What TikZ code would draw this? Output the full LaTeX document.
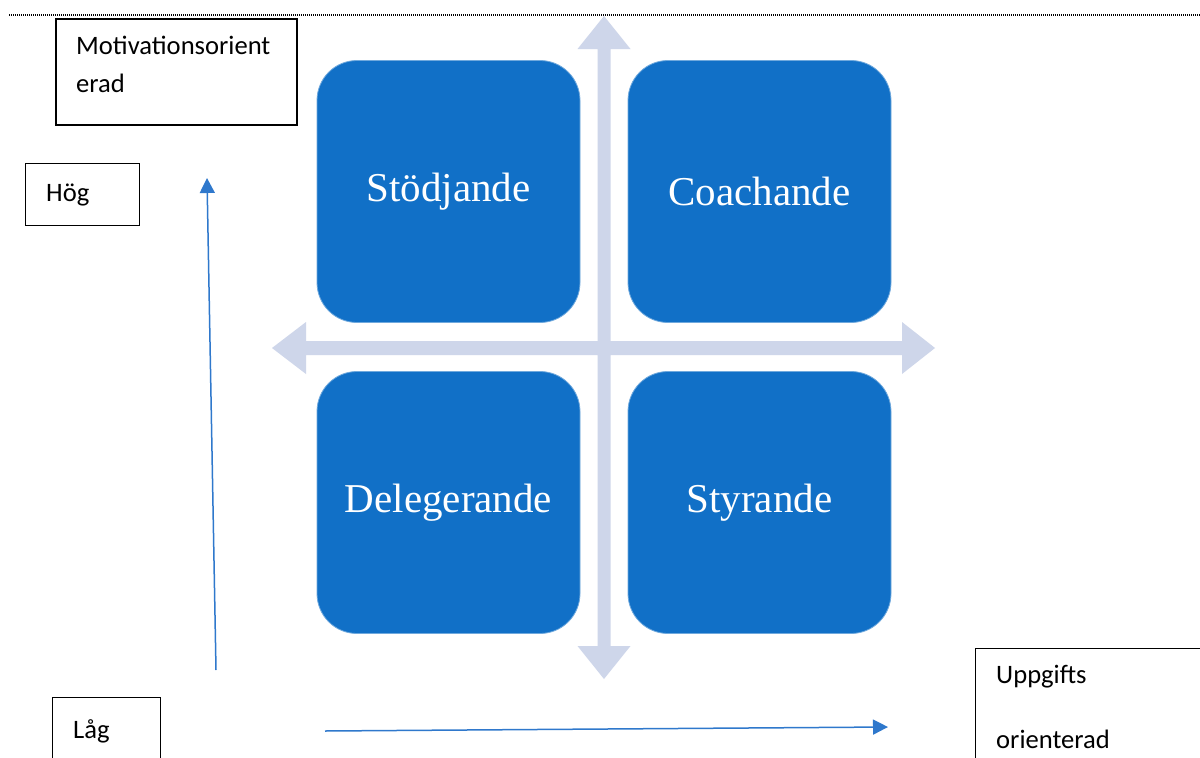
\documentclass[tikz,border=0pt]{standalone}
\usepackage{fontspec}
\setmainfont{Carlito}
\newfontfamily\quadfont{Liberation Serif}
\usetikzlibrary{arrows.meta}
\definecolor{quadblue}{HTML}{1170C7}
\definecolor{crossgrey}{HTML}{CED6EA}
\definecolor{axisblue}{HTML}{2F78CC}
\tikzset{
  quad/.style={fill=quadblue, draw=quadblue!60!white, line width=0.8pt, rounded corners=40pt,
    minimum width=263pt, minimum height=262pt, inner sep=0pt, text=white,
    font=\quadfont\fontsize{41}{46}\selectfont},
  labelbox/.style={draw=black, line width=1pt, fill=white, inner sep=0pt, anchor=north west},
  labeltext/.style={anchor=base west, inner sep=0pt, font=\fontsize{26.6}{31}\selectfont},
  axis/.style={draw=axisblue, line width=1.5pt, -{Triangle[width=15pt,length=15pt]}},
}
\begin{document}
\begin{tikzpicture}[x=1pt,y=-1pt]
\useasboundingbox (0,0) rectangle (1200,758);
\clip (0,0) rectangle (1200,758);
\fill[white] (0,0) rectangle (1200,758);

% dotted rule along the top
\draw[black, line width=1.1pt, dash pattern=on 1pt off 1pt] (9,15) -- (1200,15);

% light cross with four arrowheads
\fill[crossgrey] (597.5,49) -- (577.5,49) -- (604,16) -- (630.5,49) -- (610.5,49)
  -- (610.5,341) -- (902,341) -- (902,322) -- (935,348) -- (902,374) -- (902,355)
  -- (610.5,355) -- (610.5,646) -- (630.5,646) -- (604,679) -- (577.5,646) -- (597.5,646)
  -- (597.5,355) -- (306,355) -- (306,374) -- (272,348) -- (306,322) -- (306,341)
  -- (597.5,341) -- cycle;

% four quadrants
\node[quad] (stod)  at (448.5,191.5) {Stödjande};
\node[quad] (coach) at (759.5,191.5) {Coachande};
\node[quad] (deleg) at (448.5,502.5) {Delegerande};
\node[quad] (styr)  at (759.5,502.5) {Styrande};

% label boxes
\node[labelbox, line width=2pt, minimum width=241pt, minimum height=106pt] (motbox) at (55,18) {};
\node[labeltext] (mot1) at (76,54) {Motivationsorient};
\node[labeltext] (mot2) at (76,92) {erad};

\node[labelbox, minimum width=114pt, minimum height=62pt] (hogbox) at (25,163) {};
\node[labeltext] (hog) at (46,201) {Hög};

\node[labelbox, minimum width=108pt, minimum height=80pt] (lagbox) at (52,697) {};
\node[labeltext] (lag) at (73,738) {Låg};

\node[labelbox, minimum width=240pt, minimum height=130pt] (uppbox) at (975,648) {};
\node[labeltext] (upp1) at (996,683) {Uppgifts};
\node[labeltext] (upp2) at (996,748) {orienterad};

% thin axis arrows
\coordinate (vstart) at (216,670);
\coordinate (vend) at (207,178);
\coordinate (hstart) at (325,731);
\coordinate (hend) at (888,727);
\draw[axis] (vstart) -- (vend);
\draw[axis] (hstart) -- (hend);
\end{tikzpicture}
\end{document}
